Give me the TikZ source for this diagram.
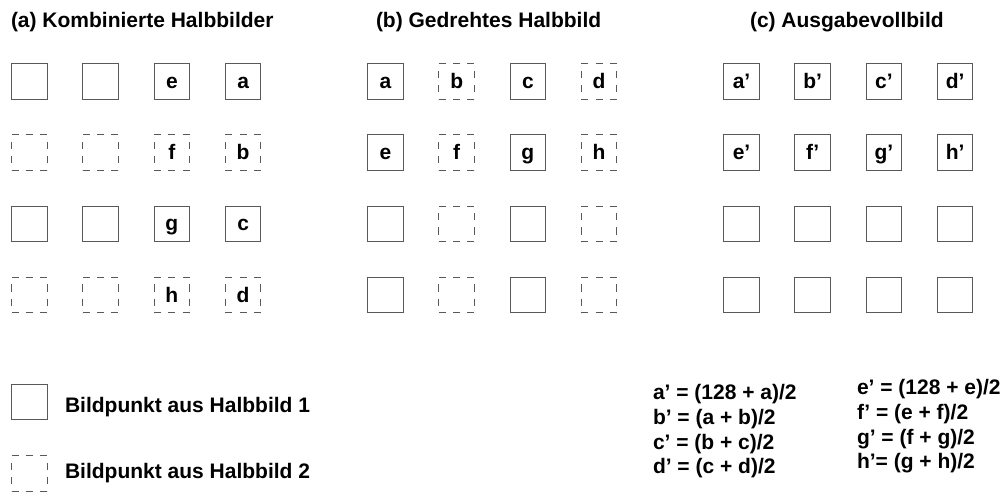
\documentclass[tikz,border=0pt]{standalone}
\usepackage{fontspec}
\setmainfont{Liberation Sans}
\begin{document}
\begin{tikzpicture}[x=1pt,y=-1pt,
  every node/.style={inner sep=0pt, outer sep=0pt, font=\bfseries\fontsize{21}{24}\selectfont},
  pix/.style={draw=black!65, line width=1pt, minimum size=35.5pt, text height=14pt, text depth=0pt},
  spix/.style={pix},
  dpix/.style={pix, draw=none},
  dline/.style={draw=black!65, line width=1pt, dash pattern=on 7.1pt off 7.1pt},
  ttl/.style={anchor=base west},
  fml/.style={anchor=base west}]
\useasboundingbox (0,0) rectangle (1006,492);
% titles
\node[ttl] (ta) at (11,28) {(a) Kombinierte Halbbilder};
\node[ttl] (tb) at (376,28) {(b) Gedrehtes Halbbild};
\node[ttl] (tc) at (750,28) {(c) Ausgabevollbild};
% panel (a)
\foreach \r/\st in {0/spix,1/dpix,2/spix,3/dpix}{
  \foreach \c in {0,1}{
    \node[\st] (a-\r-\c) at ({29.5+71.2*\c},{81.5+71.2*\r}) {};
  }
}
\foreach \r/\st/\p/\q in {0/spix/e/a,1/dpix/f/b,2/spix/g/c,3/dpix/h/d}{
  \node[\st] (a-\r-2) at ({29.5+71.2*2},{81.5+71.2*\r}) {\p};
  \node[\st] (a-\r-3) at ({29.5+71.2*3},{81.5+71.2*\r}) {\q};
}
% panel (b)
\foreach \r/\p/\q/\s/\t in {0/a/b/c/d,1/e/f/g/h}{
  \node[spix] (b-\r-0) at ({29.5+71.2*5},{81.5+71.2*\r}) {\p};
  \node[dpix] (b-\r-1) at ({29.5+71.2*6},{81.5+71.2*\r}) {\q};
  \node[spix] (b-\r-2) at ({29.5+71.2*7},{81.5+71.2*\r}) {\s};
  \node[dpix] (b-\r-3) at ({29.5+71.2*8},{81.5+71.2*\r}) {\t};
}
\foreach \r in {2,3}{
  \node[spix] (b-\r-0) at ({29.5+71.2*5},{81.5+71.2*\r}) {};
  \node[dpix] (b-\r-1) at ({29.5+71.2*6},{81.5+71.2*\r}) {};
  \node[spix] (b-\r-2) at ({29.5+71.2*7},{81.5+71.2*\r}) {};
  \node[dpix] (b-\r-3) at ({29.5+71.2*8},{81.5+71.2*\r}) {};
}
% panel (c)
\foreach \r/\p/\q/\s/\t in {0/a/b/c/d,1/e/f/g/h}{
  \node[spix] (c-\r-0) at ({29.5+71.2*10},{81.5+71.2*\r}) {\p'};
  \node[spix] (c-\r-1) at ({29.5+71.2*11},{81.5+71.2*\r}) {\q'};
  \node[spix] (c-\r-2) at ({29.5+71.2*12},{81.5+71.2*\r}) {\s'};
  \node[spix] (c-\r-3) at ({29.5+71.2*13},{81.5+71.2*\r}) {\t'};
}
\foreach \r in {2,3}{
  \foreach \c in {0,1,2,3}{
    \node[spix] (c-\r-\c) at ({29.5+71.2*(10+\c)},{81.5+71.2*\r}) {};
  }
}
% legend
\node[spix] (l1) at (29.5,402) {};
\node[dpix] (l2) at (29.5,473.5) {};
\node[anchor=base west] (lt1) at (65,412) {Bildpunkt aus Halbbild 1};
\node[anchor=base west] (lt2) at (65,478) {Bildpunkt aus Halbbild 2};
% dashed borders of field-2 pixels
\foreach \n in {a-1-0,a-1-1,a-1-2,a-1-3,a-3-0,a-3-1,a-3-2,a-3-3,
                b-0-1,b-0-3,b-1-1,b-1-3,b-2-1,b-2-3,b-3-1,b-3-3,l2}{
  \draw[dline] (\n.north west) -- (\n.north east);
  \draw[dline] (\n.south west) -- (\n.south east);
  \draw[dline, dash phase=7.1pt] (\n.north west) -- (\n.south west);
  \draw[dline, dash phase=7.1pt] (\n.north east) -- (\n.south east);
}
% formulas
\node[fml] (fa) at (653,399) {a' = (128 + a)/2};
\node[fml] (fb) at (653,424) {b' = (a + b)/2};
\node[fml] (fc) at (653,449) {c' = (b + c)/2};
\node[fml] (fd) at (653,473) {d' = (c + d)/2};
\node[fml] (fe) at (857,394) {e' = (128 + e)/2};
\node[fml] (ff) at (857,419) {f' = (e + f)/2};
\node[fml] (fg) at (857,444) {g' = (f + g)/2};
\node[fml] (fh) at (857,468) {h'= (g + h)/2};
\end{tikzpicture}
\end{document}
